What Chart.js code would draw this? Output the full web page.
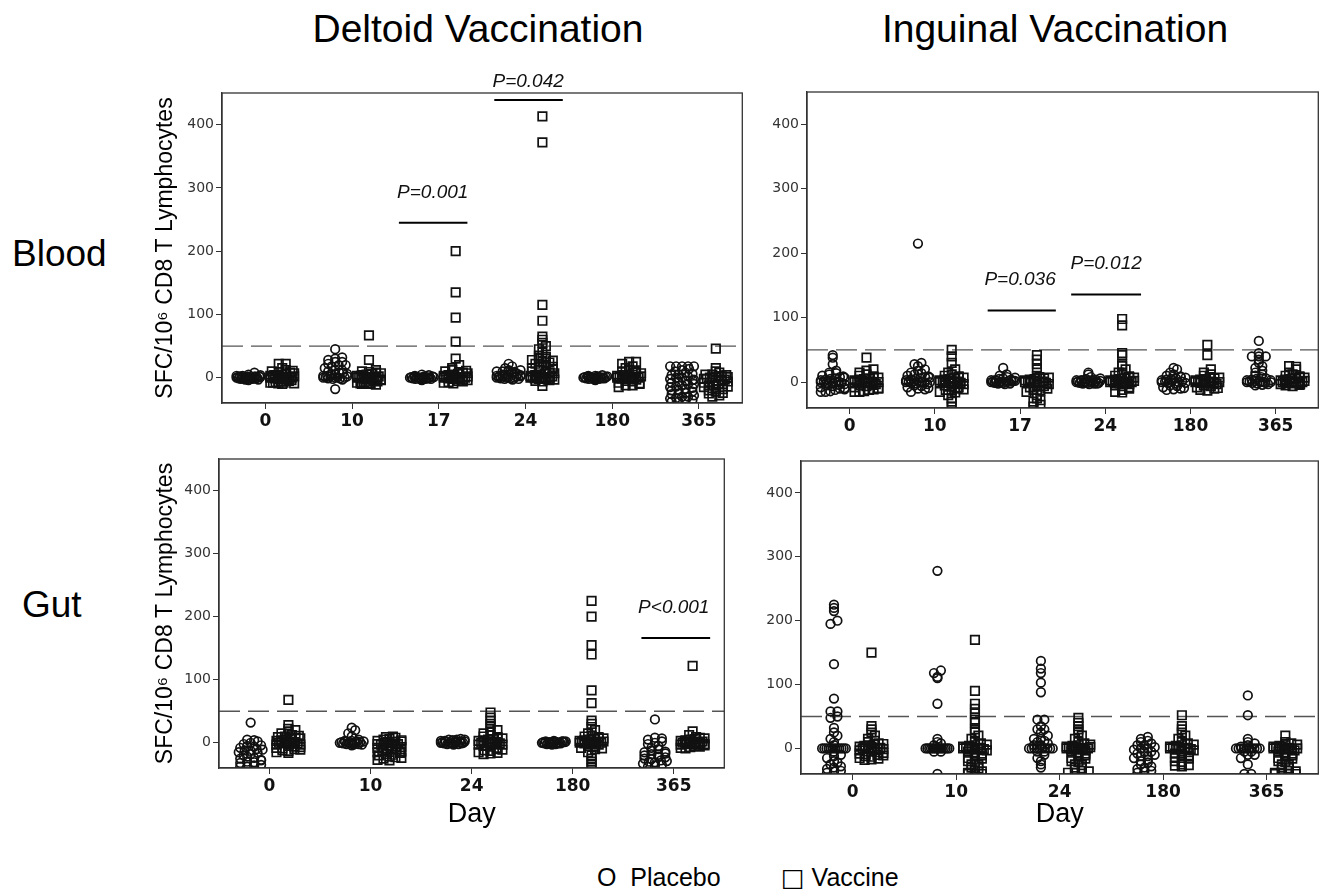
<!DOCTYPE html>
<html>
<head>
<meta charset="utf-8">
<script src="https://cdn.jsdelivr.net/npm/chart.js@4.4.1/dist/chart.umd.min.js"></script>
<style>
  body { margin: 0; background: #fff; width: 1326px; height: 891px; position: relative; overflow: hidden;
         font-family: "Liberation Sans", Arial, sans-serif; color: #000; }
  .panel { position: absolute; }
  .txt { position: absolute; line-height: 1; white-space: pre; }
</style>
</head>
<body>
<div class="txt" style="left:478px;top:9px;font-size:39px;transform:translateX(-50%)">Deltoid Vaccination</div>
<div class="txt" style="left:1055px;top:9px;font-size:39px;transform:translateX(-50%)">Inguinal Vaccination</div>
<div class="txt" style="left:12px;top:235px;font-size:37px">Blood</div>
<div class="txt" style="left:22px;top:586px;font-size:37px">Gut</div>
<div class="txt" style="left:597px;top:865px;font-size:25px">O  Placebo</div>
<div class="txt" style="left:781px;top:865px;font-size:25px"><span style="font-family:'DejaVu Sans'">□</span> Vaccine</div>

<script>
// ==========================================
// SFC per 10^6 CD8 T cells, placebo (O) vs vaccine (□)
// ==========================================

const yTicks = [0, 100, 200, 300, 400];
const cutoff = 50;

// 1. DELTOID / BLOOD
const deltoidBloodDays = ['0', '10', '17', '24', '180', '365'];
const deltoidBloodPlacebo = [
  [0, 1, -1, 2, -2, 0, 1, -1, 3, -3, 0, 2, -2, 1, -1, 0, -2, 1, 2, -1, 0, 3, 5, 8, -3, 2, 1, -4, 4],
  [0, 1, -1, 2, -2, 0, 1, -1, 3, -3, 0, 2, 3, 5, 5, 8, 8, 10, 12, 15, 18, 20, 22, 25, 28, 30, 32, 45, -18, 6, 12, 20, 25],
  [0, 1, -1, 2, -2, 0, 1, -1, 3, -3, 0, 2, -2, 1, -1, 0, -2, 2, 5, 1, -4, 4],
  [0, 1, -1, 2, -2, 0, 1, -1, 3, -3, 0, 2, -2, 2, 3, 5, 5, 5, 8, 8, 10, 10, 12, 15, 18, 22, 6, 9, 12, 4],
  [0, 1, -1, 2, -2, 0, 1, -1, 3, -3, 0, 2, -2, 1, -1, 0, -1, 1, 2, 3, -4, 4],
  [-38, -38, -36, -35, -33, -32, -30, -30, -28, -26, -25, -24, -22, -20, -20, -18, -16, -15, -14, -12,
   -10, -10, -8, -6, -5, -4, -2, 0, 0, 2, 4, 5, 8, 10, 12, 14, 18, 18, 18, 18, 18, -3, 6],
];
const deltoidBloodVaccine = [
  [0, 1, -1, 2, -2, 0, 1, -1, 3, -3, 0, 2, -8, -8, -7, -9, -6, -8, -5, -5, -4, 4, 3, 5, 6, 8, 7, 10, 9, 12, 15, 22, 22, -10, -9, 11],
  [0, 1, -1, 2, -2, 0, 1, -1, 3, -3, 0, 2, -8, -9, -7, -8, -10, -9, -5, -6, -4, -3, 4, 5, 6, 8, 7, 10, 9, 12, -10, -11, 28, 67],
  [0, 1, -1, 2, -2, 0, 1, -1, 3, -3, 0, 2, -8, -7, -9, -5, -6, -4, 4, 5, 6, 8, 10, 12, 15, 20, 30, 57, 95, 135, 200, 7, 9, 11],
  [0, 1, -1, 2, -2, 0, 1, -1, 3, -3, 0, 2, -5, -6, -4, -3, 4, 5, 6, 8, 10, 12, 15, 18, 20, 22, 25, 28, 30, 30, 35,
   40, 45, 50, 55, 60, 65, 90, 115, 372, 413, -13, 7, 9, 13, 17, 24, 27, 33],
  [0, 1, -1, 2, -2, 0, 1, -1, 3, -3, 0, 2, -15, -12, -12, -10, -8, -5, -6, 4, 5, 8, 10, 12, 15, 18, 22, 25, 25, 7, 9, -9],
  [-30, -28, -25, -22, -20, -18, -18, -15, -12, -12, -10, -10, -8, -8, -5, -5, -2, -2, 0, 0, 0, 2, 2, 5, 5, 8, 10, 15, 46,
   -3, 1, -6, 4, -14, -24],
];
const deltoidBloodNotes = [
  { label: 'P=0.001', from: 1.54, to: 2.33, y: 245, at: 1.93, textY: 292 },
  { label: 'P=0.042', from: 2.64, to: 3.43, y: 439, at: 3.03, textY: 468 },
];

// 2. INGUINAL / BLOOD
const inguinalBloodDays = ['0', '10', '17', '24', '180', '365'];
const inguinalBloodPlacebo = [
  [0, 1, -1, 2, -2, 0, 1, -1, 3, -3, -15, -15, -14, -12, -10, -11, -8, -5, -6, -4, 4, 5, 6, 8, 10, 12, 15, 14, 18, 28, 38, 42, 7, 9, -9],
  [0, 1, -1, 2, -2, 0, 1, -1, 3, -3, 0, -15, -10, -11, -8, -5, -6, 4, 5, 6, 8, 10, 12, 15, 14, 25, 28, 30, 215, 7, 9, -9, 18, 20],
  [0, 1, -1, 2, -2, 0, 1, -1, 3, -3, 0, 2, -2, 1, 2, 2, 3, 5, 6, 8, 10, 12, 22, 4, 7],
  [0, 1, -1, 2, -2, 0, 1, -1, 3, -3, 0, 2, -2, 1, -2, -1, 2, 3, 5, 8, 12, 15, 4, 6],
  [0, 1, -1, 2, -2, 0, 1, -1, 3, -12, -11, -10, -8, -5, -6, 4, 5, 6, 8, 10, 12, 15, 20, 22, -9, 7, 9],
  [0, 1, -1, 2, -2, 0, 1, -1, 3, -3, 0, -5, -4, 4, 5, 8, 10, 12, 15, 18, 22, 25, 30, 35, 40, 40, 40, 45, 64, 6, 3],
];
const inguinalBloodVaccine = [
  [0, 1, -1, 2, -2, 0, 1, -1, 3, -3, 0, -15, -15, -14, -12, -11, -10, -8, -5, -6, -4, 4, 5, 6, 8, 10, 12, 15, 18, 20, 38, -9, 7, 9],
  [-38, -30, -25, -20, -15, -16, -12, -13, -10, -11, -5, -6, 0, 1, -1, 2, -2, 0, 1, -1, 3, -3, 4, 5, 6, 8, 10, 12, 15, 20, 30, 40, 50, 7, 9, -8],
  [-38, -35, -30, -28, -25, -20, -15, -12, -13, -10, -8, -5, -6, 0, 1, -1, 2, -2, 0, 1, -1, 3, -3, 4, 5, 8, 10, 20, 28, 35, 42, 6, 7],
  [-15, -16, -12, -10, -5, -6, 0, 1, -1, 2, -2, 0, 1, -1, 3, -3, 0, 2, 4, 5, 6, 8, 10, 12, 15, 20, 25, 28, 42, 45, 88, 98, 7, 9, -8],
  [-12, -13, -10, -8, -5, -6, 0, 1, -1, 2, -2, 0, 1, -1, 3, -3, 0, 4, 5, 8, 10, 12, 15, 20, 42, 58, 6, 7, -9],
  [-5, -6, -4, -3, 0, 1, -1, 2, -2, 0, 1, -1, 3, -3, 0, 2, 4, 5, 6, 8, 10, 12, 15, 20, 25, 24, 7, 9],
];
const inguinalBloodNotes = [
  { label: 'P=0.036', from: 1.62, to: 2.42, y: 111, at: 2.0, textY: 159 },
  { label: 'P=0.012', from: 2.6, to: 3.42, y: 136, at: 3.01, textY: 183 },
];

// 3. DELTOID / GUT
const deltoidGutDays = ['0', '10', '24', '180', '365'];
const deltoidGutPlacebo = [
  [-38, -38, -36, -35, -32, -30, -31, -28, -25, -22, -20, -18, -15, -12, -13, -10, -11, -8, -5, -2, 0, 2, 5, 4, 32, -6, -4, -16, -24, -27],
  [0, 1, -1, 2, -2, 0, 1, -1, 3, -3, 0, 2, -2, 1, -3, -4, 2, 3, 5, 10, 15, 20, 24],
  [0, 1, -1, 2, -2, 0, 1, -1, 3, -3, 0, 2, -2, 1, -1, 0, 2, 3, 5, 4, 5, 6, 5],
  [0, 1, -1, 2, -2, 0, 1, -1, 3, -3, 0, 2, -2, 1, -1, 0, -1, 2, 2, 1, 2],
  [-38, -36, -35, -33, -30, -31, -28, -25, -26, -22, -20, -18, -19, -15, -12, -10, -8, -5, -2, 0, 2, 5, 8, 7, 37, -14, -17, -23, -29],
];
const deltoidGutVaccine = [
  [-15, -16, -12, -13, -10, -11, -8, -9, -5, -6, -3, 0, 1, -1, 2, -2, 0, 1, -1, 3, -3, 4, 5, 6, 8, 9, 10, 12, 15, 18, 20, 22, 28, 68, 7, -7, 11],
  [-28, -27, -25, -22, -23, -20, -18, -19, -15, -16, -12, -13, -10, -11, -8, -9, -5, -6, -2, -3, 0, 1, -1, 2, -2, 3, 2, 5, 6, 8, 9, 10, -24, -14, -7, 4],
  [-18, -17, -15, -16, -12, -13, -10, -11, -5, -6, -3, 0, 1, -1, 2, -2, 0, 1, -1, 3, -3, 4, 5, 6, 8, 10, 12, 15, 18, 20, 25, 30, 35, 40, 48, -8, 7, 9],
  [-40, -35, -30, -25, -20, -15, -10, -8, -5, -6, 0, 1, -1, 2, -2, 0, 1, -1, 3, -3, 0, 2, 4, 5, 6, 8, 10, 11, 15, 20, 25, 30, 35,
   63, 83, 140, 155, 200, 225, 7, 9, -9],
  [-8, -9, -7, -5, -6, -3, 0, 1, -1, 2, -2, 0, 1, -1, 3, -3, 0, 2, -2, 4, 5, 6, 8, 12, 18, 122, 7, 9, -4],
];
const deltoidGutNotes = [
  { label: 'P<0.001', from: 3.68, to: 4.36, y: 166, at: 4.0, textY: 214 },
];

// 4. INGUINAL / GUT
const inguinalGutDays = ['0', '10', '24', '180', '365'];
const inguinalGutPlacebo = [
  [-38, -36, -35, -32, -30, -28, -25, -22, -20, -15, -12, -10, -5, 0, 0, 0, 0, 0, 0, 0, 0, 0, 0, 0, 0,
   5, 10, 15, 20, 25, 32, 48, 50, 58, 58, 78, 132, 195, 200, 215, 220, 225],
  [-40, -5, -5, 0, 0, 0, 0, 0, 0, 0, 0, 0, 0, 0, 0, 0, 0, 5, 8, 10, 15, 70, 110, 112, 118, 122, 278],
  [-30, -25, -20, -15, -10, -5, -5, 0, 0, 0, 0, 0, 0, 0, 0, 0, 0, 5, 5, 8, 10, 12, 15, 15, 20, 25, 30, 30, 35, 45, 45,
   88, 103, 118, 125, 137],
  [-38, -36, -35, -32, -30, -28, -25, -22, -20, -18, -15, -12, -12, -10, -8, -5, -5, -2, 0, 0, 2, 5, 5, 8, 10, 12, 15, 18],
  [-40, -40, -25, -15, -10, -10, -5, -5, 0, 0, 0, 0, 0, 0, 0, 0, 0, 0, 3, 5, 8, 10, 15, 52, 83],
];
const inguinalGutVaccine = [
  [-18, -17, -15, -16, -12, -13, -10, -11, -8, -9, -5, -6, -3, 0, 1, -1, 2, -2, 0, 1, -1, 3, 4, 5, 6, 8, 10, 12, 15, 20, 25, 30, 35, 150, -7, 7],
  [-40, -40, -40, -38, -35, -36, -30, -31, -25, -26, -20, -21, -15, -16, -10, -11, -5, -6, 0, 1, -1, 2, -2, 0, 1, -1, 3, -3,
   4, 5, 8, 10, 15, 20, 25, 30, 40, 45, 55, 62, 70, 90, 170, 6, -8],
  [-38, -38, -35, -36, -30, -31, -25, -26, -20, -21, -15, -16, -10, -11, -5, -6, 0, 1, -1, 2, -2, 0, 1, -1, 3, -3, 0, 2,
   4, 5, 8, 10, 15, 20, 25, 30, 35, 40, 48, 6, -8],
  [-28, -27, -25, -26, -20, -21, -15, -16, -10, -11, -8, -5, -6, 0, 1, -1, 2, -2, 0, 1, -1, 3, 4, 5, 8, 10, 15, 20, 25, 30, 35, 52, -3, 6],
  [-40, -40, -40, -40, -38, -38, -35, -36, -30, -31, -25, -26, -20, -21, -15, -16, -10, -11, -5, -6, 0, 1, -1, 2, -2, 0, 1, -1, 3, -3, 0,
   4, 5, 8, 10, 20, 6, -8],
];
const inguinalGutNotes = [];

// ==========================================
// helpers
// ==========================================

// spread points that share a value band sideways (dot-plot / swarm look)
function swarm(values, center, binSize, step, halfMax) {
  const bins = {};
  values.forEach((v) => {
    const k = Math.round(v / binSize) + 0;
    (bins[k] = bins[k] || []).push(v);
  });
  const pts = [];
  Object.values(bins).forEach((b) => {
    const n = b.length;
    const s = n > 1 ? Math.min(step, (2 * halfMax) / (n - 1)) : 0;
    b.forEach((v, i) => pts.push({ x: center + (i - (n - 1) / 2) * s, y: v }));
  });
  return pts;
}

// frame + P-value bars
const panelDecor = {
  id: 'panelDecor',
  afterDraw(chart, args, opts) {
    const { ctx, chartArea: a } = chart;
    const x = chart.scales.x;
    const y = chart.scales.y;
    ctx.save();
    ctx.strokeStyle = '#333';
    ctx.lineWidth = 1.3;
    ctx.strokeRect(a.left, a.top, a.right - a.left, a.bottom - a.top);
    ctx.strokeStyle = '#000';
    ctx.lineWidth = 2;
    ctx.fillStyle = '#111';
    ctx.font = 'italic 19px "Liberation Sans"';
    ctx.textAlign = 'center';
    ctx.textBaseline = 'middle';
    (opts.notes || []).forEach((n) => {
      const yy = y.getPixelForValue(n.y);
      ctx.beginPath();
      ctx.moveTo(x.getPixelForValue(n.from), yy);
      ctx.lineTo(x.getPixelForValue(n.to), yy);
      ctx.stroke();
      ctx.fillText(n.label, x.getPixelForValue(n.at), y.getPixelForValue(n.textY));
    });
    ctx.restore();
  },
};

function buildPanel(p) {
  const [L, T, R, B] = p.frame;
  const padTop = 30;
  const wrap = document.createElement('div');
  wrap.className = 'panel';
  wrap.style.left = L - p.yW + 'px';
  wrap.style.top = T - padTop + 'px';
  wrap.style.width = p.yW + (R - L) + p.padR + 'px';
  wrap.style.height = padTop + (B - T) + p.xH + 'px';
  const canvas = document.createElement('canvas');
  wrap.appendChild(canvas);
  document.body.appendChild(wrap);

  const n = p.days.length;
  const pxPer = (R - L) / n;
  const datasets = [];
  p.days.forEach((d, i) => {
    datasets.push({
      data: swarm(p.placebo[i], i - p.shift / pxPer, 6, 7 / pxPer, 12 / pxPer),
      pointStyle: 'circle',
      pointRadius: 4.3,
      borderColor: '#111',
      borderWidth: 1.7,
      backgroundColor: 'rgba(0,0,0,0)',
    });
    datasets.push({
      data: swarm(p.vaccine[i], i + p.shift / pxPer, 6, 7 / pxPer, 12 / pxPer),
      pointStyle: 'rect',
      pointRadius: 6,
      borderColor: '#111',
      borderWidth: 1.7,
      backgroundColor: 'rgba(0,0,0,0)',
    });
  });
  datasets.push({
    data: [{ x: -0.5, y: cutoff }, { x: n - 0.5, y: cutoff }],
    showLine: true,
    pointRadius: 0,
    borderColor: '#555',
    borderWidth: 1.3,
    borderDash: [21, 8],
  });

  new Chart(canvas, {
    type: 'scatter',
    data: { datasets: datasets },
    options: {
      responsive: true,
      maintainAspectRatio: false,
      animation: false,
      layout: { padding: { top: padTop, right: p.padR, left: 0, bottom: 0 } },
      plugins: {
        legend: { display: false },
        tooltip: { enabled: false },
        panelDecor: { notes: p.notes },
      },
      scales: {
        x: {
          type: 'linear',
          min: -0.5,
          max: n - 0.5,
          afterFit: (s) => { s.height = p.xH; },
          afterBuildTicks: (s) => { s.ticks = p.days.map((d, i) => ({ value: i })); },
          ticks: {
            callback: (v) => p.days[v],
            font: { family: 'DejaVu Sans', size: 17, weight: 'bold' },
            color: '#111',
            padding: 2,
            maxRotation: 0,
            autoSkip: false,
          },
          grid: { drawOnChartArea: false, tickLength: 6, color: '#333' },
          border: { color: '#333', width: 1.3 },
          title: {
            display: p.xTitle,
            text: 'Day',
            font: { family: 'Liberation Sans', size: 27 },
            color: '#000',
            padding: 0,
          },
        },
        y: {
          min: -40,
          max: 450,
          afterFit: (s) => { s.width = p.yW; },
          afterBuildTicks: (s) => { s.ticks = yTicks.map((v) => ({ value: v })); },
          ticks: { font: { family: 'DejaVu Sans', size: 14 }, color: '#333', padding: 2, autoSkip: false },
          grid: { drawOnChartArea: false, tickLength: 6, color: '#333' },
          border: { color: '#333', width: 1.3 },
          title: {
            display: p.yTitle,
            text: 'SFC/10⁶ CD8 T Lymphocytes',
            font: { family: 'Liberation Sans', size: 23 },
            color: '#000',
            padding: 0,
          },
        },
      },
    },
    plugins: [panelDecor],
  });
}

buildPanel({ frame: [222, 93, 746, 403], yW: 70, xH: 40, padR: 4, shift: 17, yTitle: true, xTitle: false,
  days: deltoidBloodDays, placebo: deltoidBloodPlacebo, vaccine: deltoidBloodVaccine, notes: deltoidBloodNotes });
buildPanel({ frame: [807, 92, 1322, 408], yW: 50, xH: 40, padR: 4, shift: 17, yTitle: false, xTitle: false,
  days: inguinalBloodDays, placebo: inguinalBloodPlacebo, vaccine: inguinalBloodVaccine, notes: inguinalBloodNotes });
buildPanel({ frame: [219, 459, 728, 768], yW: 67, xH: 63, padR: 4, shift: 19, yTitle: true, xTitle: true,
  days: deltoidGutDays, placebo: deltoidGutPlacebo, vaccine: deltoidGutVaccine, notes: deltoidGutNotes });
buildPanel({ frame: [801, 461, 1325, 774], yW: 50, xH: 57, padR: 1, shift: 19, yTitle: false, xTitle: true,
  days: inguinalGutDays, placebo: inguinalGutPlacebo, vaccine: inguinalGutVaccine, notes: inguinalGutNotes });
</script>
</body>
</html>
